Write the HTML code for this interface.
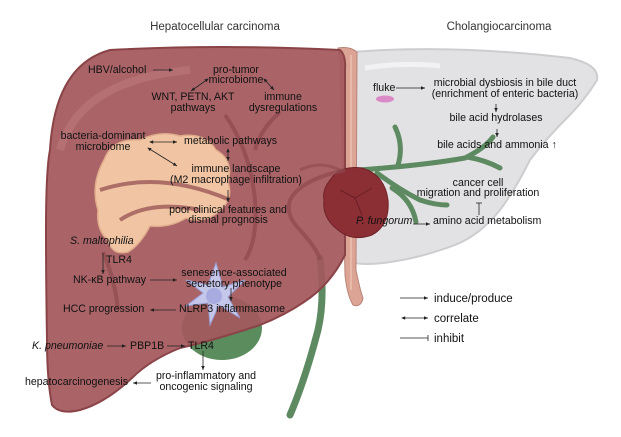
<!DOCTYPE html>
<html><head><meta charset="utf-8"><style>
html,body{margin:0;padding:0;background:#fff;}
svg{display:block;}
text{font-family:"Liberation Sans",Arial,sans-serif;font-size:10.6px;fill:#111;}
.t{font-size:11.5px;fill:#333;}
</style></head><body>
<svg width="621" height="437" viewBox="0 0 621 437" xmlns="http://www.w3.org/2000/svg">
<defs>
<marker id="a" markerWidth="6" markerHeight="6" refX="5" refY="3" orient="auto"><path d="M0,0.8 L5,3 L0,5.2Z" fill="#222"/></marker>
<marker id="b" markerWidth="6" markerHeight="6" refX="1" refY="3" orient="auto"><path d="M5,0.8 L0,3 L5,5.2Z" fill="#222"/></marker>
</defs>
<text class="t" x="215" y="30" text-anchor="middle">Hepatocellular carcinoma</text>
<text class="t" x="499" y="30" text-anchor="middle">Cholangiocarcinoma</text>

<!-- gray right lobe -->
<path d="M352,52 Q450,44 570,58 Q600,65 597,80 Q585,100 565,120 Q545,140 530,160 Q515,190 500,210 Q480,235 455,245 Q420,258 390,262 Q365,266 350,262 Z" fill="#e2e2e4" stroke="#cdcdd0" stroke-width="2"/>
<path d="M365,68 Q400,62 440,66" stroke="#f4f4f6" stroke-width="5" fill="none" opacity="0.9"/>
<!-- green ducts right -->
<g stroke="#5e8a62" stroke-width="5" fill="none" stroke-linecap="round">
<path d="M345,171 Q420,166 465,158 Q485,148 493,137"/>
<path d="M467,157 Q485,160 500,168"/>
<path d="M395,127 Q404,145 398,165"/>
<path d="M377,173 Q400,190 420,200 Q435,205 447,205"/>
<path d="M392,188 Q412,200 416,222"/>
</g>
<!-- gallbladder -->
<ellipse cx="222" cy="328" rx="40" ry="32" fill="#5b8c5e"/>
<!-- main green duct -->
<path d="M320,258 Q325,300 318,330 Q305,380 290,415" stroke="#5e8a62" stroke-width="7" fill="none" stroke-linecap="round"/>
<!-- ligament -->
<path d="M338,48 Q350,46 357,52 L356,270 Q360,290 363,298 Q361,308 353,305 Q347,295 345,275 L340,60Z" fill="#dca495" stroke="#b88478" stroke-width="1"/>
<path d="M351,55 L351,290" stroke="#f3cfbf" stroke-width="1" fill="none"/>
<!-- red left lobe -->
<path d="M110,50 Q220,44 340,50 Q346,55 345,70 L345,255 Q330,285 304,302 Q285,315 260,325 Q215,340 180,348 Q150,360 132,378 Q105,403 80,410 Q60,415 52,405 Q47,380 47,340 Q46,280 46,230 Q46,170 50,150 Q55,65 110,50Z" fill="#a4585d" fill-opacity="0.93" stroke="#8a4448" stroke-width="2"/>
<path d="M60,150 Q80,80 190,70" stroke="#c07b80" stroke-width="8" fill="none" opacity="0.5"/>
<path d="M340,170 Q320,160 300,170" stroke="#8f4a4f" stroke-width="3" fill="none" opacity="0.6"/>
<!-- tumor dark -->
<path d="M330,180 Q340,165 362,168 Q385,175 388,200 Q390,225 372,235 Q352,242 338,230 Q322,218 324,200 Q322,190 330,180Z" fill="#8b2f35" stroke="#6e2228" stroke-width="1"/>
<path d="M340,190 L355,198 L362,215 M355,198 L372,188" stroke="#6a1e24" stroke-width="1" fill="none"/>
<!-- cream blob -->
<path d="M104,160 Q112,138 140,140 Q160,130 180,136 Q205,132 216,150 Q234,160 228,182 Q234,200 218,212 Q204,224 186,218 Q170,228 150,226 Q140,245 128,252 Q112,256 108,240 Q96,230 98,210 Q90,185 104,160Z" fill="#f1c5a3" stroke="#e0ad8c" stroke-width="1.5"/>
<!-- veins -->
<g stroke="#8f4a4f" stroke-width="4" fill="none" opacity="0.7">
<path d="M225,115 Q250,150 255,200 Q258,240 245,260"/>
<path d="M280,112 Q260,130 255,150"/>
<path d="M100,190 Q160,170 230,200"/>
<path d="M120,220 Q150,200 200,210"/>
<path d="M345,170 Q300,180 290,200 Q285,215 300,230 Q318,250 320,260"/>
<path d="M103,252 Q115,280 118,310"/>
</g>
<!-- star cell -->
<path d="M216,263 L223,287 L245,280 L228,297 L240,318 L219,305 L210,325 L208,303 L186,306 L203,293 L186,280 L208,285Z" fill="#c4c6ea" stroke="#9a9dd0" stroke-width="1"/>
<circle cx="214" cy="296" r="8" fill="#a8abe0"/>

<!-- arrows -->
<g stroke="#222" stroke-width="0.8" fill="none">
<line x1="153" y1="70" x2="173" y2="70" marker-end="url(#a)"/>
<line x1="208" y1="79" x2="191" y2="91" marker-start="url(#b)" marker-end="url(#a)"/>
<line x1="264" y1="79" x2="274" y2="90" marker-start="url(#b)" marker-end="url(#a)"/>
<line x1="150" y1="142" x2="177" y2="142" marker-start="url(#b)" marker-end="url(#a)"/>
<line x1="148" y1="148" x2="177" y2="166" marker-start="url(#b)" marker-end="url(#a)"/>
<line x1="228" y1="149" x2="228" y2="161" marker-start="url(#b)" marker-end="url(#a)"/>
<line x1="228" y1="190" x2="228" y2="202" marker-end="url(#a)"/>
<line x1="103" y1="253" x2="103" y2="274" marker-end="url(#a)"/>
<line x1="150" y1="280" x2="177" y2="280" marker-end="url(#a)"/>
<line x1="231" y1="288" x2="231" y2="301" marker-end="url(#a)"/>
<line x1="176" y1="310" x2="150" y2="310" marker-end="url(#a)"/>
<line x1="107" y1="346" x2="126" y2="346" marker-end="url(#a)"/>
<line x1="167" y1="346" x2="185" y2="346" marker-end="url(#a)"/>
<line x1="203" y1="351" x2="203" y2="370" marker-end="url(#a)"/>
<line x1="151" y1="383" x2="133" y2="383" marker-end="url(#a)"/>
<line x1="396" y1="88" x2="425" y2="88" marker-end="url(#a)"/>
<line x1="496" y1="104" x2="496" y2="112" marker-end="url(#a)"/>
<line x1="497" y1="129" x2="497" y2="137" marker-end="url(#a)"/>
<line x1="413" y1="224" x2="430" y2="224" marker-end="url(#a)"/>
<line x1="479" y1="215" x2="479" y2="203"/><line x1="476" y1="203" x2="482" y2="203"/>
<line x1="400" y1="298" x2="428" y2="298" marker-end="url(#a)"/>
<line x1="402" y1="318" x2="428" y2="318" marker-start="url(#b)" marker-end="url(#a)"/>
<line x1="400" y1="338" x2="428" y2="338"/><line x1="428" y1="335" x2="428" y2="341"/>
</g>

<g>
<text x="88" y="73">HBV/alcohol</text>
<text x="236" y="73" text-anchor="middle">pro-tumor</text>
<text x="236" y="83" text-anchor="middle">microbiome</text>
<text x="193" y="100" text-anchor="middle">WNT, PETN, AKT</text>
<text x="193" y="111" text-anchor="middle">pathways</text>
<text x="283" y="100" text-anchor="middle">immune</text>
<text x="283" y="111" text-anchor="middle">dysregulations</text>
<text x="103" y="139" text-anchor="middle">bacteria-dominant</text>
<text x="103" y="150" text-anchor="middle">microbiome</text>
<text x="184" y="144">metabolic pathways</text>
<text x="236" y="172" text-anchor="middle">immune landscape</text>
<text x="236" y="183" text-anchor="middle">(M2 macrophage infiltration)</text>
<text x="228" y="213" text-anchor="middle">poor clinical features and</text>
<text x="228" y="223" text-anchor="middle">dismal prognosis</text>
<text x="70" y="244" font-style="italic">S. maltophilia</text>
<text x="106" y="263">TLR4</text>
<text x="73" y="283">NK-κB pathway</text>
<text x="234" y="276" text-anchor="middle">senesence-associated</text>
<text x="234" y="287" text-anchor="middle">secretory phenotype</text>
<text x="63" y="312">HCC progression</text>
<text x="179" y="312">NLRP3 inflammasome</text>
<text x="32" y="349" font-style="italic">K. pneumoniae</text>
<text x="130" y="349">PBP1B</text>
<text x="188" y="349">TLR4</text>
<text x="25" y="385">hepatocarcinogenesis</text>
<text x="206" y="379" text-anchor="middle">pro-inflammatory and</text>
<text x="206" y="390" text-anchor="middle">oncogenic signaling</text>
<text x="373" y="91">fluke</text>
<ellipse cx="385" cy="99" rx="9" ry="3.5" fill="#d98ac7"/>
<text x="505" y="86" text-anchor="middle">microbial dysbiosis in bile duct</text>
<text x="505" y="97" text-anchor="middle">(enrichment of enteric bacteria)</text>
<text x="496" y="121" text-anchor="middle">bile acid hydrolases</text>
<text x="497" y="148" text-anchor="middle">bile acids and ammonia ↑</text>
<text x="478" y="186" text-anchor="middle">cancer cell</text>
<text x="478" y="196" text-anchor="middle">migration and proliferation</text>
<text x="356" y="224" font-style="italic">P. fungorum</text>
<text x="433" y="224">amino acid metabolism</text>
<text x="434" y="302" style="font-size:11.5px">induce/produce</text>
<text x="434" y="322" style="font-size:11.5px">correlate</text>
<text x="434" y="342" style="font-size:11.5px">inhibit</text>
</g>
</svg>
</body></html>
